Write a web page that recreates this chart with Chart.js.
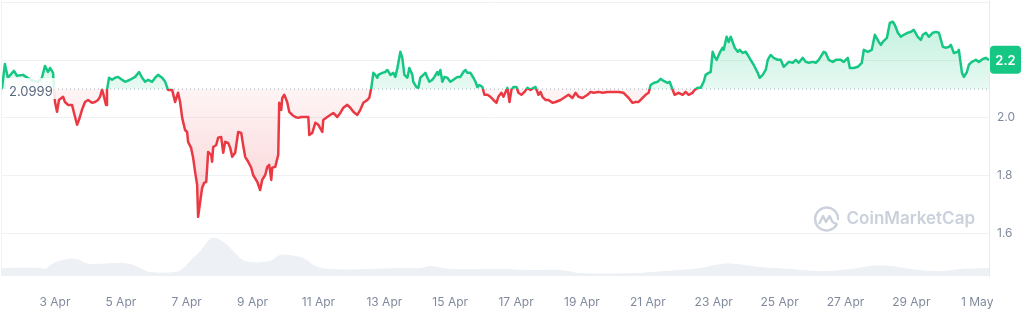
<!DOCTYPE html>
<html>
<head>
<meta charset="utf-8">
<script src="https://cdn.jsdelivr.net/npm/chart.js@4.4.1/dist/chart.umd.min.js"></script>
<style>
  html, body { margin: 0; padding: 0; background: #fff; }
  #wrap { width: 1024px; height: 314px; }
</style>
</head>
<body>
<div id="wrap"><canvas id="priceChart" width="1024" height="314"></canvas></div>
<script>
// hours since 1 Apr 00:00 and the price at that time
const hours = [
  9.4,11.5,13.7,18.1,20.3,24.7,26.9,31.2,35.6,38.5,
  40.7,42.9,44.4,46.6,48.0,49.5,50.9,53.9,55.3,57.5,
  60.4,61.9,64.1,65.5,67.7,69.9,72.1,75.0,77.2,79.4,
  80.8,82.3,83.0,85.2,85.9,87.4,89.6,91.8,94.0,96.9,
  99.1,102.7,106.4,109.3,111.5,113.7,115.9,118.8,121.0,123.1,
  126.1,128.3,130.4,133.4,135.5,137.7,139.2,140.7,142.8,144.3,
  145.0,147.2,148.7,150.1,151.6,152.3,153.8,155.2,156.7,158.2,
  158.9,159.6,161.8,162.5,163.3,165.5,166.9,169.1,170.6,172.0,
  174.2,175.7,177.1,179.3,181.5,183.7,185.1,186.6,188.8,191.0,
  192.4,195.4,197.5,199.0,201.2,202.7,204.1,205.6,206.3,208.5,
  210.7,211.4,212.9,213.6,215.1,217.2,218.7,220.9,223.1,225.3,
  227.5,230.4,232.6,233.3,235.5,237.7,239.9,242.8,243.5,246.4,
  248.6,250.8,253.7,255.9,258.1,261.0,263.2,265.4,268.3,270.5,
  272.7,275.6,277.0,278.5,280.0,281.4,282.9,283.6,286.5,288.7,
  290.2,292.4,294.6,296.0,297.5,299.7,301.1,302.6,304.8,306.2,
  308.4,309.1,311.3,312.8,314.2,316.4,317.9,319.4,320.8,323.0,
  324.5,326.6,327.4,328.8,330.3,331.8,333.9,336.1,338.3,341.2,
  343.4,345.6,347.1,348.5,350.7,352.9,354.4,355.8,357.3,359.5,
  360.9,363.1,365.3,367.5,369.7,371.1,373.3,374.8,377.7,379.2,
  380.6,382.1,384.3,385.7,387.9,390.1,392.3,394.5,396.7,398.1,
  400.3,401.8,403.2,405.4,407.6,410.5,412.7,416.4,420.0,422.2,
  425.1,427.3,429.5,432.4,436.1,438.3,440.4,444.1,447.0,450.6,
  454.3,458.7,462.3,466.0,468.9,471.1,473.3,476.2,478.4,480.6,
  482.0,484.2,487.1,489.3,491.5,494.4,495.9,498.1,499.5,502.4,
  505.4,507.5,509.7,512.6,514.1,516.3,518.5,520.7,522.1,524.3,
  525.8,527.2,528.7,530.2,532.3,534.5,535.3,537.4,538.9,540.4,
  541.8,543.3,545.5,546.9,549.1,551.3,552.8,554.9,557.1,560.1,
  561.5,563.7,565.9,567.4,569.5,571.7,574.7,576.8,579.0,580.5,
  582.7,585.6,587.8,590.0,592.9,595.1,597.3,600.2,602.4,604.5,
  608.2,609.6,611.8,614.8,617.0,620.6,622.8,625.7,627.2,630.1,
  633.0,635.9,637.4,640.3,643.2,645.4,648.3,649.8,651.2,654.2,
  656.3,658.5,660.0,662.2,664.4,666.5,669.5,671.6,673.8,676.7,
  678.9,680.4,682.6,684.8,687.7,689.9,692.1,695.0,697.2,699.4,
  700.8,703.0,705.9,706.6,708.9,710.3,712.5,713.9,716.1,719.0,
  721.2,724.1,726.3,728.6
];
const prices = [
  2.101,2.187,2.139,2.163,2.146,2.149,2.142,2.130,2.125,2.139,
  2.180,2.159,2.173,2.156,2.055,2.021,2.062,2.073,2.055,2.045,
  2.045,2.017,1.976,1.993,2.028,2.055,2.062,2.052,2.055,2.062,
  2.073,2.097,2.087,2.045,2.097,2.139,2.132,2.139,2.142,2.132,
  2.125,2.132,2.142,2.159,2.139,2.125,2.132,2.125,2.139,2.149,
  2.139,2.125,2.097,2.097,2.055,2.087,2.055,2.000,1.958,1.951,
  1.917,1.896,1.861,1.813,1.768,1.657,1.709,1.757,1.775,1.778,
  1.827,1.882,1.872,1.848,1.899,1.906,1.931,1.934,1.879,1.917,
  1.913,1.896,1.865,1.879,1.951,1.948,1.906,1.865,1.848,1.827,
  1.802,1.778,1.750,1.785,1.802,1.830,1.837,1.785,1.827,1.830,
  1.872,2.052,2.028,2.069,2.080,2.055,2.021,2.010,2.003,2.000,
  2.003,2.003,2.003,1.941,1.948,1.983,1.976,1.951,1.993,2.003,
  2.010,2.017,2.003,2.017,2.035,2.045,2.035,2.021,2.010,2.028,
  2.052,2.062,2.069,2.104,2.156,2.149,2.139,2.149,2.156,2.159,
  2.166,2.149,2.156,2.142,2.173,2.229,2.208,2.149,2.139,2.173,
  2.149,2.125,2.107,2.104,2.139,2.149,2.156,2.139,2.125,2.132,
  2.142,2.159,2.149,2.166,2.125,2.142,2.139,2.125,2.132,2.142,
  2.142,2.159,2.166,2.156,2.156,2.139,2.125,2.107,2.114,2.107,
  2.080,2.080,2.073,2.062,2.052,2.073,2.087,2.073,2.104,2.055,
  2.097,2.107,2.107,2.087,2.080,2.090,2.104,2.097,2.104,2.107,
  2.080,2.090,2.073,2.062,2.062,2.052,2.055,2.062,2.073,2.080,
  2.069,2.087,2.073,2.069,2.080,2.090,2.087,2.090,2.087,2.090,
  2.090,2.090,2.087,2.069,2.052,2.055,2.055,2.069,2.080,2.087,
  2.114,2.121,2.125,2.135,2.128,2.121,2.125,2.097,2.080,2.087,
  2.080,2.090,2.080,2.087,2.097,2.104,2.104,2.125,2.149,2.156,
  2.159,2.229,2.211,2.201,2.225,2.243,2.236,2.281,2.263,2.281,
  2.263,2.243,2.229,2.236,2.225,2.229,2.218,2.201,2.184,2.156,
  2.139,2.149,2.166,2.201,2.218,2.208,2.201,2.201,2.177,2.184,
  2.194,2.191,2.201,2.191,2.208,2.194,2.191,2.194,2.191,2.201,
  2.229,2.225,2.201,2.194,2.201,2.201,2.194,2.208,2.173,2.173,
  2.177,2.191,2.236,2.229,2.236,2.288,2.263,2.253,2.263,2.277,
  2.329,2.333,2.322,2.295,2.281,2.288,2.295,2.298,2.305,2.281,
  2.270,2.288,2.295,2.281,2.295,2.298,2.295,2.246,2.243,2.246,
  2.253,2.225,2.229,2.236,2.156,2.142,2.159,2.184,2.194,2.201,
  2.194,2.204,2.208,2.201
];

// volume (millions) along the bottom
const volHours = [9.4,37.1,40.7,45.8,53.1,64.1,69.9,77.2,91.8,102.7,
  110.0,117.3,135.5,140.7,146.5,153.8,161.1,164.7,172.0,179.3,
  186.6,204.8,212.1,223.1,230.4,237.7,248.6,277.8,299.7,314.2,
  321.5,336.1,372.6,394.5,416.4,431.0,474.7,482.0,503.9,518.5,
  533.1,544.0,562.2,584.1,606.0,627.9,642.5,657.1,671.6,693.5,
  708.1,728.6];
const volumes = [32,32,28,48,64,68,52,48,52,48,
  32,16,16,28,60,100,148,152,132,92,
  60,60,84,80,68,40,28,28,32,32,
  40,28,28,24,24,12,12,16,24,32,
  48,48,36,28,20,28,40,40,28,20,
  28,32];

const openPrice = 2.0999;
const tickHours = [48, 96, 144, 192, 240, 288, 336, 384, 432, 480, 528, 576, 624, 672, 720];
const tickLabels = ["3 Apr", "5 Apr", "7 Apr", "9 Apr", "11 Apr", "13 Apr", "15 Apr", "17 Apr",
  "19 Apr", "21 Apr", "23 Apr", "25 Apr", "27 Apr", "29 Apr", "1 May"];
const priceTicks = [1.6, 1.8, 2.0, 2.2, 2.4];

const GREEN = "#16c784";
const RED = "#ea3943";
const FONT = "Inter, 'Open Sans', sans-serif";

// line: green above the open price, red below
function lineColor(context) {
  const chart = context.chart;
  const { ctx, chartArea, scales } = chart;
  if (!chartArea) return GREEN;
  const y0 = scales.y.getPixelForValue(openPrice);
  let f = (y0 - chartArea.top) / (chartArea.bottom - chartArea.top);
  f = Math.min(Math.max(f, 0), 1);
  const g = ctx.createLinearGradient(0, chartArea.top, 0, chartArea.bottom);
  g.addColorStop(0, GREEN);
  g.addColorStop(f, GREEN);
  g.addColorStop(f, RED);
  g.addColorStop(1, RED);
  return g;
}

function fillAbove(context) {
  const chart = context.chart;
  const { ctx, chartArea, scales } = chart;
  if (!chartArea) return "rgba(22,199,132,0.15)";
  const y0 = scales.y.getPixelForValue(openPrice);
  const g = ctx.createLinearGradient(0, chartArea.top, 0, y0);
  g.addColorStop(0, "rgba(22,199,132,0.30)");
  g.addColorStop(1, "rgba(22,199,132,0.10)");
  return g;
}

function fillBelow(context) {
  const chart = context.chart;
  const { ctx, chartArea, scales } = chart;
  if (!chartArea) return "rgba(234,57,67,0.1)";
  const y0 = scales.y.getPixelForValue(openPrice);
  const y1 = scales.y.getPixelForValue(1.65);
  const g = ctx.createLinearGradient(0, y0, 0, y1);
  g.addColorStop(0, "rgba(234,57,67,0.05)");
  g.addColorStop(1, "rgba(234,57,67,0.24)");
  return g;
}

const openLabel = {
  id: "openLabel",
  afterDatasetsDraw(chart) {
    const { ctx, chartArea, scales } = chart;
    const y0 = scales.y.getPixelForValue(openPrice);
    ctx.save();
    ctx.fillStyle = "rgba(255,255,255,0.85)";
    ctx.fillRect(chartArea.left + 4, y0 - 11, 50, 21);
    ctx.fillStyle = "#58667e";
    ctx.font = "13px " + FONT;
    ctx.textAlign = "left";
    ctx.textBaseline = "middle";
    ctx.fillText(openPrice.toFixed(4), chartArea.left + 7, y0 + 3);
    ctx.restore();
  }
};

const lastBadge = {
  id: "lastBadge",
  afterDraw(chart) {
    const { ctx, chartArea, scales } = chart;
    const last = prices[prices.length - 1];
    const y = scales.y.getPixelForValue(last);
    const x = chartArea.right + 1;
    ctx.save();
    ctx.fillStyle = GREEN;
    ctx.beginPath();
    ctx.roundRect(x, y - 14, 31, 28, 4);
    ctx.fill();
    ctx.fillStyle = "#fff";
    ctx.font = "600 13px " + FONT;
    ctx.textAlign = "center";
    ctx.textBaseline = "middle";
    ctx.fillText(last.toFixed(1), x + 15.5, y + 1);
    ctx.restore();
  }
};

const watermark = {
  id: "watermark",
  beforeDatasetsDraw(chart) {
    const { ctx, chartArea } = chart;
    const right = chartArea.right - 14;
    const cy = chartArea.bottom - 57;
    ctx.save();
    ctx.fillStyle = "#cbd1dc";
    ctx.strokeStyle = "#cbd1dc";
    ctx.font = "600 17px " + FONT;
    ctx.textAlign = "right";
    ctx.textBaseline = "middle";
    ctx.fillText("CoinMarketCap", right, cy);
    const w = ctx.measureText("CoinMarketCap").width;
    const cx = right - w - 20;
    ctx.lineWidth = 2.4;
    ctx.lineJoin = "round";
    ctx.lineCap = "round";
    ctx.beginPath();
    ctx.arc(cx, cy, 11.5, 0.15 * Math.PI, 2.0 * Math.PI);
    ctx.stroke();
    ctx.beginPath();
    ctx.moveTo(cx - 7, cy + 4);
    ctx.lineTo(cx - 3.5, cy - 3);
    ctx.lineTo(cx - 0.5, cy + 3);
    ctx.lineTo(cx + 3, cy - 3);
    ctx.lineTo(cx + 6, cy + 3);
    ctx.lineTo(cx + 10, cy + 5);
    ctx.stroke();
    // left edge
    ctx.strokeStyle = "#eff2f5";
    ctx.lineWidth = 1;
    ctx.beginPath();
    ctx.moveTo(chartArea.left - 0.5, chartArea.top);
    ctx.lineTo(chartArea.left - 0.5, chartArea.bottom);
    ctx.stroke();
    ctx.restore();
  }
};

const ctx = document.getElementById("priceChart");

new Chart(ctx, {
  type: "line",
  data: {
    datasets: [
      {
        // price
        data: hours.map((h, i) => ({ x: h, y: prices[i] })),
        borderColor: lineColor,
        borderWidth: 2.5,
        borderJoinStyle: "round",
        pointRadius: 0,
        tension: 0,
        fill: { target: { value: openPrice }, above: fillAbove, below: fillBelow },
        yAxisID: "y",
        order: 1,
      },
      {
        // open price dotted line
        data: [
          { x: hours[0], y: openPrice },
          { x: hours[hours.length - 1], y: openPrice },
        ],
        borderColor: "#a7afbf",
        borderWidth: 1,
        borderDash: [1, 3],
        pointRadius: 0,
        fill: false,
        yAxisID: "y",
        order: 2,
      },
      {
        // volume
        data: volHours.map((h, i) => ({ x: h, y: volumes[i] })),
        borderWidth: 0,
        borderColor: "rgba(0,0,0,0)",
        backgroundColor: "#edf0f4",
        pointRadius: 0,
        tension: 0.4,
        fill: "origin",
        yAxisID: "yv",
        order: 3,
      },
    ],
  },
  options: {
    responsive: false,
    animation: false,
    devicePixelRatio: 1,
    layout: { padding: { left: 2, top: 1, right: 0, bottom: 0 } },
    plugins: {
      legend: { display: false },
      tooltip: { enabled: false },
    },
    scales: {
      x: {
        type: "linear",
        min: hours[0],
        max: hours[hours.length - 1],
        grid: { display: false },
        border: { display: false },
        afterBuildTicks: (scale) => {
          scale.ticks = tickHours.map((v) => ({ value: v }));
        },
        afterFit: (scale) => {
          scale.height = 38;
          scale.paddingLeft = 0;
          scale.paddingRight = 0;
        },
        ticks: {
          autoSkip: false,
          maxRotation: 0,
          padding: 11,
          color: "#808a9d",
          font: { family: FONT, size: 12 },
          callback: (v, i) => tickLabels[i],
        },
      },
      y: {
        position: "right",
        min: 1.452,
        max: 2.405,
        afterBuildTicks: (scale) => {
          scale.ticks = priceTicks.map((v) => ({ value: v }));
        },
        afterFit: (scale) => {
          scale.width = 35;
          scale.paddingTop = 0;
          scale.paddingBottom = 0;
        },
        grid: { color: "#eff2f5", drawTicks: false },
        border: { display: true, color: "#e6e9ee" },
        ticks: {
          padding: 8,
          color: "#808a9d",
          font: { family: FONT, size: 12 },
          callback: (v) => (v > 2.3 ? "" : v.toFixed(1)),
        },
      },
      yv: {
        display: false,
        min: 0,
        max: 1100,
      },
    },
  },
  plugins: [watermark, openLabel, lastBadge],
});
</script>
</body>
</html>
